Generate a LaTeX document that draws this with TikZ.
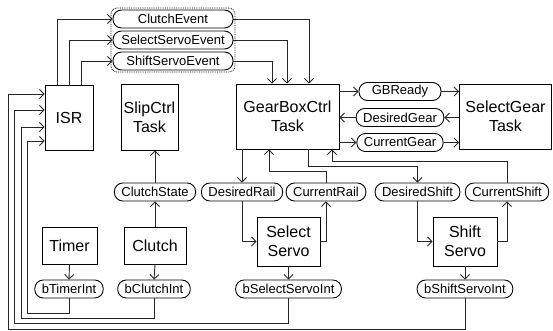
\documentclass[tikz,border=0pt]{standalone}
\usepackage{fontspec}
\setmainfont{Liberation Sans}
\usepackage{tikz}
\usetikzlibrary{arrows.meta,positioning,fit}
\tikzset{
  >={Straight Barb[length=4.5pt,width=9pt]},
  gtask/.style={draw=black, fill=white, line width=0.9pt, align=center,
                font=\fontsize{16}{19}\selectfont, inner sep=0pt},
  gpill/.style={draw=black, fill=white, line width=0.9pt, rounded corners=8.5pt,
                minimum height=18pt, inner xsep=7pt, inner ysep=0pt,
                font=\fontsize{13}{15}\selectfont},
  gflow/.style={->, black!85, line width=0.9pt},
  ggroup/.style={draw=black, densely dotted, line width=0.8pt,
                 rounded corners=6pt, inner sep=1.5pt},
}

\begin{document}
\begin{tikzpicture}[x=1pt,y=-1pt]
  \useasboundingbox (0,0) rectangle (553,331);

  \node[gtask, minimum width=48pt, minimum height=65pt] (isr) at (69,117.5) {ISR};
  \node[gtask, minimum width=57pt, minimum height=66pt] (slip) at (149.5,117) {SlipCtrl\\Task};
  \node[gtask, minimum width=103pt, minimum height=65pt] (gbox) at (287.5,116.5) {GearBoxCtrl\\Task};
  \node[gtask, minimum width=92pt, minimum height=65pt] (selgear) at (505.5,116.5) {SelectGear\\Task};
  \node[gtask, minimum width=55pt, minimum height=37pt] (timer) at (69.5,245.5) {Timer};
  \node[gtask, minimum width=62pt, minimum height=37pt] (clutch) at (155,245.5) {Clutch};
  \node[gtask, minimum width=63pt, minimum height=49pt] (selsrv) at (288.5,241.5) {Select\\Servo};
  \node[gtask, minimum width=64pt, minimum height=49pt] (shiftsrv) at (465,241.5) {Shift\\Servo};

  \node[gpill, minimum width=120pt] (clutchev) at (173,19) {ClutchEvent};
  \node[gpill, minimum width=120pt] (selev) at (173,40) {SelectServoEvent};
  \node[gpill, minimum width=120pt] (shiftev) at (173,61) {ShiftServoEvent};
  \node[ggroup, fit=(clutchev)(shiftev)] (events) {};

  \node[gpill, minimum width=82pt] (gbready) at (400,91.5) {GBReady};
  \node[gpill] (desgear) at (400,117.5) {DesiredGear};
  \node[gpill] (curgear) at (400,142.5) {CurrentGear};

  \node[gpill] (clutchst) at (155,192) {ClutchState};
  \node[gpill] (desrail) at (242,192) {DesiredRail};
  \node[gpill] (currail) at (326,192) {CurrentRail};
  \node[gpill] (desshift) at (417.5,192) {DesiredShift};
  \node[gpill] (curshift) at (507,192) {CurrentShift};

  \node[gpill] (btimer) at (69,289) {bTimerInt};
  \node[gpill] (bclutch) at (154,289) {bClutchInt};
  \node[gpill] (bselsrv) at (288.5,289) {bSelectServoInt};
  \node[gpill] (bshiftsrv) at (465,289) {bShiftServoInt};

  \foreach \dx/\ev in {-12/clutchev, 0/selev, 12/shiftev}
    \draw[gflow] ([xshift=\dx pt]isr.north) |- (\ev.west);
  \foreach \ev/\dx in {clutchev/21.5, selev/-0.5, shiftev/-15.5}
    \draw[gflow] (\ev.east) -| ([xshift=\dx pt]gbox.north);

  \draw[gflow] (gbox.east |- gbready.west) -- (gbready.west);
  \draw[gflow] (gbready.east) -- (selgear.west |- gbready.east);
  \draw[gflow] (selgear.west |- desgear.east) -- (desgear.east);
  \draw[gflow] (desgear.west) -- (gbox.east |- desgear.west);
  \draw[gflow] (gbox.east |- curgear.west) -- (curgear.west);
  \draw[gflow] (curgear.east) -- (selgear.west |- curgear.east);

  \draw[gflow] (desrail.north |- gbox.south) -- (desrail.north);
  \draw[gflow] (currail.north) -- ++(0,-11) -| ([xshift=-18.5pt]gbox.south);
  \draw[gflow] ([xshift=20.5pt]gbox.south) -- ++(0,17) -| (desshift.north);
  \draw[gflow] (curshift.north) -- ++(0,-21.5) -| ([xshift=44.5pt]gbox.south);

  \draw[gflow] (desrail.south) |- (selsrv.west);
  \draw[gflow] (selsrv.east) -| (currail.south);
  \draw[gflow] (desshift.south) |- (shiftsrv.west);
  \draw[gflow] (shiftsrv.east) -| (curshift.south);

  \draw[gflow] (clutch.north) -- (clutchst.south);
  \draw[gflow] (clutchst.north) -- (clutchst.north |- slip.south);

  \draw[gflow] (timer.south) -- (btimer.north);
  \draw[gflow] (clutch.south) -- (bclutch.north);
  \draw[gflow] (selsrv.south) -- (bselsrv.north);
  \draw[gflow] (shiftsrv.south) -- (bshiftsrv.north);

  \foreach \src/\x/\y/\dy in {btimer/27/313/-23.5, bclutch/21/318/-9.5,
                              bselsrv/14/323/7.5, bshiftsrv/8/329/23.5}
    \draw[gflow] (\src.south) |- (\x,\y) |- ([yshift=\dy pt]isr.west);

\end{tikzpicture}
\end{document}
